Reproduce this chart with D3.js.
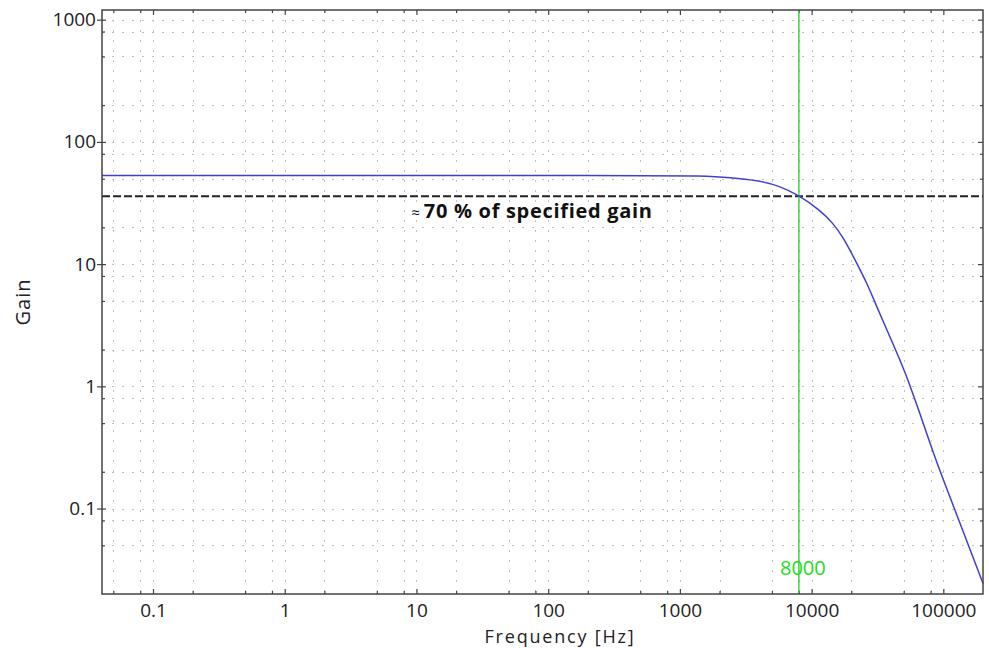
<!DOCTYPE html>
<html>
<head>
<meta charset="utf-8">
<script src="https://cdn.jsdelivr.net/npm/d3@7"></script>
<style>
  body { margin: 0; background: #fff; }
  svg { display: block; font-family: "Open Sans", sans-serif; }
</style>
</head>
<body>
<div id="chart"></div>
<script>
// values
const freq = [0.041, 1000, 1250, 2500, 4000, 5700, 8000, 11500, 14500, 17300, 22000, 26300, 31300, 37300, 44500, 53000, 61000, 66500, 83900, 112000, 150000, 200000];
const gain = [53, 53, 52.9, 51.3, 48.1, 43.6, 36.6, 27.8, 21.7, 16.7, 10.2, 7.0, 4.46, 2.89, 1.87, 1.19, 0.77, 0.60, 0.283, 0.125, 0.055, 0.0244];

const xMajor = [0.1, 1, 10, 100, 1000, 10000, 100000];
const xLabels = ["0.1", "1", "10", "100", "1000", "10000", "100000"];
const xMinor = [0.05, 0.08, 0.2, 0.5, 0.8, 2, 5, 8, 20, 50, 80, 200, 500, 800, 2000, 5000, 8000, 20000, 50000, 80000];
const yMajor = [0.1, 1, 10, 100, 1000];
const yLabels = ["0.1", "1", "10", "100", "1000"];
const yMinor = [0.05, 0.08, 0.2, 0.5, 0.8, 2, 5, 8, 20, 50, 80, 200, 500, 800];

const refGain = 36;        // ~70 % of specified gain
const cutoff = 8000;
const annotation = "70 % of specified gain";

const width = 989;
const height = 648;
const margin = { top: 10, right: 6, bottom: 54, left: 102 };

const svg = d3.select("#chart")
  .append("svg")
  .attr("width", width)
  .attr("height", height);

const x = d3.scaleLog()
  .domain([0.041, 200000])
  .range([margin.left, width - margin.right]);

const y = d3.scaleLog()
  .domain([0.02, 1200])
  .range([height - margin.bottom, margin.top]);

const [x0, x1] = x.range();
const [y0, y1] = y.range();

// dotted grid
const grid = svg.append("g")
  .attr("stroke", "#9a9a9a")
  .attr("stroke-width", 1)
  .attr("stroke-dasharray", "2,8")
  .attr("opacity", 0.6);

grid.selectAll(".gx")
  .data(xMajor.concat(xMinor))
  .enter()
  .append("line")
  .attr("x1", (d) => Math.round(x(d)) + 0.5)
  .attr("x2", (d) => Math.round(x(d)) + 0.5)
  .attr("y1", y1)
  .attr("y2", y0);

grid.selectAll(".gy")
  .data(yMajor.concat(yMinor))
  .enter()
  .append("line")
  .attr("y1", (d) => Math.round(y(d)) + 0.5)
  .attr("y2", (d) => Math.round(y(d)) + 0.5)
  .attr("x1", x0)
  .attr("x2", x1);

// axes
function styleAxis(g) {
  g.select(".domain").remove();
  g.selectAll(".tick line").attr("stroke", "#444").attr("stroke-width", 1.2);
  g.selectAll(".tick text")
    .attr("fill", "#222")
    .attr("font-size", 19)
    .attr("font-family", "'Open Sans', sans-serif");
}

const fmtX = (d) => xLabels[xMajor.indexOf(d)];
const fmtY = (d) => yLabels[yMajor.indexOf(d)];

svg.append("g")
  .attr("transform", `translate(0,${y0})`)
  .call(d3.axisBottom(x).tickValues(xMajor).tickFormat(fmtX).tickSize(-5).tickPadding(10))
  .call(styleAxis);
svg.append("g")
  .attr("transform", `translate(0,${y0})`)
  .call(d3.axisBottom(x).tickValues(xMinor).tickFormat("").tickSize(-3))
  .call(styleAxis);
svg.append("g")
  .attr("transform", `translate(0,${y1})`)
  .call(d3.axisTop(x).tickValues(xMajor).tickFormat("").tickSize(-5))
  .call(styleAxis);
svg.append("g")
  .attr("transform", `translate(0,${y1})`)
  .call(d3.axisTop(x).tickValues(xMinor).tickFormat("").tickSize(-3))
  .call(styleAxis);

svg.append("g")
  .attr("transform", `translate(${x0},0)`)
  .call(d3.axisLeft(y).tickValues(yMajor).tickFormat(fmtY).tickSize(5).tickPadding(1))
  .call(styleAxis);
svg.append("g")
  .attr("transform", `translate(${x0},0)`)
  .call(d3.axisLeft(y).tickValues(yMajor).tickFormat("").tickSize(-4))
  .call(styleAxis);
svg.append("g")
  .attr("transform", `translate(${x0},0)`)
  .call(d3.axisLeft(y).tickValues(yMinor).tickFormat("").tickSize(-3))
  .call(styleAxis);
svg.append("g")
  .attr("transform", `translate(${x1},0)`)
  .call(d3.axisRight(y).tickValues(yMajor).tickFormat("").tickSize(-5))
  .call(styleAxis);
svg.append("g")
  .attr("transform", `translate(${x1},0)`)
  .call(d3.axisRight(y).tickValues(yMinor).tickFormat("").tickSize(-3))
  .call(styleAxis);

// reference lines
svg.append("line")
  .attr("x1", x0)
  .attr("x2", x1)
  .attr("y1", y(refGain))
  .attr("y2", y(refGain))
  .attr("stroke", "#222")
  .attr("stroke-width", 2)
  .attr("stroke-dasharray", "8,3");

svg.append("line")
  .attr("x1", x(cutoff))
  .attr("x2", x(cutoff))
  .attr("y1", y1)
  .attr("y2", y0)
  .attr("stroke", "#3ad53a")
  .attr("stroke-width", 1.5);

// gain curve
const line = d3.line()
  .x((d, i) => x(freq[i]))
  .y((d) => y(d))
  .curve(d3.curveBasis);

svg.append("path")
  .attr("d", line(gain))
  .attr("fill", "none")
  .attr("stroke", "#4040d0")
  .attr("stroke-width", 1.5);

// frame
svg.append("rect")
  .attr("x", x0)
  .attr("y", y1)
  .attr("width", x1 - x0)
  .attr("height", y0 - y1)
  .attr("fill", "none")
  .attr("stroke", "#444")
  .attr("stroke-width", 1.5);

// texts
const note = svg.append("text")
  .attr("x", 532)
  .attr("y", 218)
  .attr("text-anchor", "middle")
  .attr("font-size", 20)
  .attr("fill", "#111");
note.append("tspan").attr("font-size", 15).attr("font-weight", "normal").text("≈ ");
note.append("tspan")
  .attr("font-weight", "bold")
  .attr("letter-spacing", 0.7)
  .text(annotation);

svg.append("text")
  .attr("x", x(cutoff) + 4)
  .attr("y", 575)
  .attr("text-anchor", "middle")
  .attr("font-size", 20)
  .attr("fill", "#22dd22")
  .text(String(cutoff));

svg.append("text")
  .attr("x", 560)
  .attr("y", 642.5)
  .attr("text-anchor", "middle")
  .attr("font-size", 18)
  .attr("letter-spacing", 1.8)
  .attr("fill", "#222")
  .text("Frequency [Hz]");

svg.append("text")
  .attr("transform", `translate(30,${(y0 + y1) / 2}) rotate(-90)`)
  .attr("text-anchor", "middle")
  .attr("font-size", 20)
  .attr("letter-spacing", 1)
  .attr("fill", "#222")
  .text("Gain");
</script>
</body>
</html>
